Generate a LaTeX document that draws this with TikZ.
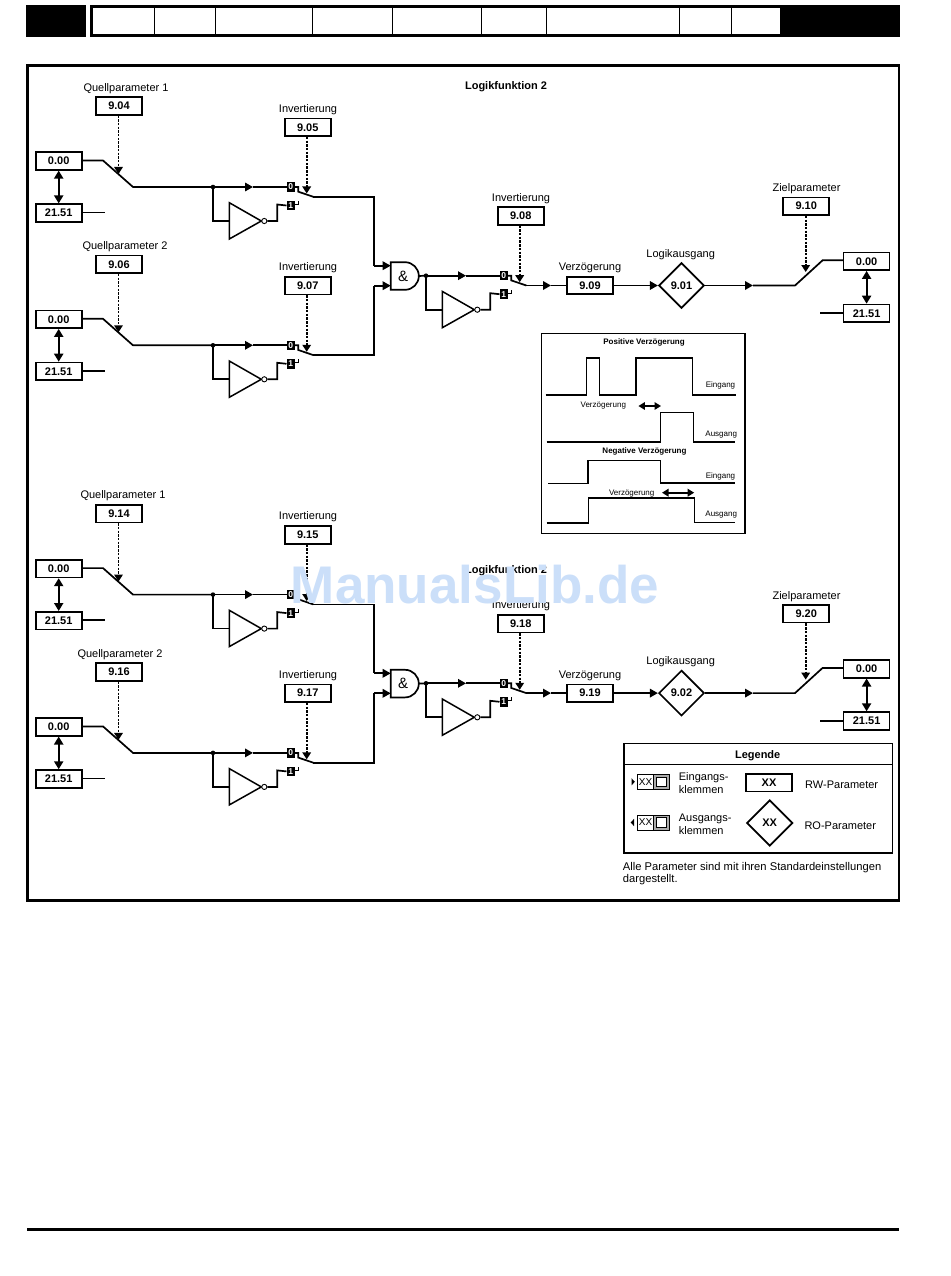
\documentclass[tikz,border=0pt]{standalone}
\usepackage{fontspec}
\setmainfont{Liberation Sans}
\usetikzlibrary{arrows.meta,shapes.geometric}
\definecolor{wm}{HTML}{CBDFF9}
\definecolor{lg}{HTML}{ABABAB}
\newcommand{\fsz}[1]{\fontsize{#1}{#1}\selectfont}
\tikzset{
  wire/.style={line width=1.7pt,line join=miter},
  flow/.style={wire,-{Triangle[length=8pt,width=8.5pt]}},
  dbl/.style={line width=2pt,{Triangle[length=8pt,width=9pt]}-{Triangle[length=8pt,width=9pt]}},
  dotarrow/.style={line width=1.6pt,dash pattern=on 2.4pt off 1.3pt,-{Triangle[length=7pt,width=8.5pt,sep=0pt]}},
  pbox/.style={draw,line width=1.7pt,minimum width=46pt,minimum height=17.5pt,inner sep=0pt,font=\fsz{11}\bfseries},
  lab/.style={inner sep=0pt,yshift=-1.5pt,font=\fsz{11}},
  tbit/.style={fill=black,text=white,minimum width=8pt,minimum height=9.5pt,inner sep=0pt,font=\fsz{8.5}\bfseries},
  pdia/.style={draw,diamond,line width=1.7pt,minimum width=45.5pt,minimum height=45.5pt,aspect=1,inner sep=0pt,font=\fsz{11}\bfseries},
  bub/.style={draw,circle,fill=white,line width=0.9pt,minimum size=5.2pt,inner sep=0pt},
  sm/.style={inner sep=0pt,yshift=-1pt,font=\fsz{8}},
  smb/.style={inner sep=0pt,yshift=-1pt,font=\fsz{8}\bfseries},
  wave/.style={line width=1.4pt,line join=miter},
  note/.style={inner sep=0pt,anchor=west,yshift=-1pt,font=\fsz{11}},
  term/.style={draw,line width=0.8pt,minimum width=16pt,minimum height=15pt,inner sep=0pt,font=\fsz{10}},
  termg/.style={draw,line width=0.8pt,fill=lg,minimum width=16.5pt,minimum height=15pt,inner sep=0pt},
  termw/.style={draw,line width=0.8pt,fill=white,minimum width=9.5pt,minimum height=9.5pt,inner sep=0pt},
}
% inverting selector stage: box, label, bits, inverter, pivot
\newcommand{\invstage}[2]{%
  \node[pbox] (#1box) at (307.7,127.3) {#2};
  \node[lab] (#1lab) at (308,108) {Invertierung};
  \node[tbit] (#1z) at (290.7,187) {0};
  \node[tbit] (#1o) at (290.7,205.5) {1};
  \coordinate (#1dot) at (213,187);
  \coordinate (#1tip) at (253,187);
  \coordinate (#1k) at (298.3,187);
  \coordinate (#1l) at (298.3,191.7);
  \coordinate (#1sw) at (313.3,196.8);
  \coordinate (#1in) at (229.3,221);
  \coordinate (#1u) at (277.3,221);
  \coordinate (#1v) at (277.3,204.5);
  \coordinate (#1tl) at (298.3,204.5);
  \coordinate (#1tt) at (298.3,201);
  \coordinate (#1arr) at (306.7,193.5);
  \fill (#1dot) circle (2.3pt);
  \draw[flow] (#1dot) -- (#1tip);
  \draw[wire] (#1tip) -- (#1z.west);
  \draw[wire] (#1z.east) -- (#1k) -- (#1l) -- (#1sw);
  \draw[wire] (#1dot) |- (#1in);
  \draw[line width=1.5pt,line join=miter] (229.3,202.7) -- (229.3,239) -- (261.3,221) -- cycle;
  \node[bub] (#1b) at (264.3,221) {};
  \draw[wire] (#1b.east) -- (#1u) -- (#1v) -- (#1o.west);
  \draw[line width=1.2pt] (#1o.east |- #1tl) -- (#1tl) -- (#1tt);
  \draw[dotarrow] (#1box.south -| #1arr) -- (#1arr);
}
% one source leg: selector plus inverting stage
\newcommand{\inleg}[6]{%
  \begin{scope}[shift={(0,#2)}]
    \node[pbox] (#1p) at (119,106) {#3};
    \node[lab] (#1pl) at (#5,87) {#4};
    \node[pbox] (#1src) at (58.7,161) {0.00};
    \node[pbox] (#1alt) at (58.7,213) {21.51};
    \draw[dbl] (#1src) -- (#1alt);
    \coordinate (#1e) at (105,212.5);
    \draw[wire] (#1alt.east |- #1e) -- (#1e);
    \coordinate (#1a) at (103,160.5);
    \coordinate (#1c) at (133,187);
    \coordinate (#1ar) at (118.5,174);
    \draw[dotarrow] (#1p.south -| #1ar) -- (#1ar);
    \invstage{#1s}{#6}
    \draw[wire] (#1src.east |- #1a) -- (#1a) -- (#1c) -- (#1sdot);
  \end{scope}%
}
% a complete logic function
\newcommand{\logicfn}[7]{%
  \begin{scope}[shift={(0,#2)}]
    \inleg{#1A}{0}{9.#34}{Quellparameter 1}{#6}{9.#35}
    \inleg{#1B}{158.3}{9.#36}{Quellparameter 2}{#7}{9.#37}
    \node[lab,yshift=1pt] (#1amp) at (403,275.5) {\fsz{15}\&};
    \coordinate (#1g1) at (390.7,265.7);
    \coordinate (#1g2) at (390.7,285.7);
    \coordinate (#1t1) at (374,265.7);
    \coordinate (#1t2) at (374,285.7);
    \draw[wire] (#1Assw) -| (#1t1);
    \draw[wire] (#1Bssw) -| (#1t2);
    \draw[flow] (#1t1) -- (#1g1);
    \draw[flow] (#1t2) -- (#1g2);
    \draw[line width=1.7pt] (405,262.2) -- (390.7,262.2) -- (390.7,289.8) -- (405,289.8) arc[start angle=-90,end angle=90,radius=13.8pt];
    \begin{scope}[shift={(213,88.7)}]
      \invstage{#1C}{9.#38}
    \end{scope}
    \draw[wire] (418.5,276) -- (#1Cdot);
    \node[pbox] (#1dl) at (590,285.5) {9.#39};
    \node[lab] (#1dll) at (590,266.7) {Verzögerung};
    \coordinate (#1c1) at (551,285.5);
    \draw[flow] (#1Csw) -- (#1c1);
    \draw[wire] (#1c1) -- (#1dl.west);
    \node[pdia] (#1out) at (681.5,285.5) {9.#4};
    \node[lab] (#1outl) at (680.7,252.7) {Logikausgang};
    \draw[flow] (#1dl.east) -- (#1out.west);
    \coordinate (#1c2) at (753,285.5);
    \coordinate (#1c3) at (795,285.5);
    \coordinate (#1c4) at (822.6,260.3);
    \draw[flow] (#1out.east) -- (#1c2);
    \node[pbox] (#1tp) at (806.2,206.2) {9.#5};
    \node[lab] (#1tpl) at (806.5,187.3) {Zielparameter};
    \node[pbox] (#1dst) at (866.6,261.3) {0.00};
    \node[pbox] (#1dalt) at (866.6,313.3) {21.51};
    \draw[wire] (#1c2) -- (#1c3) -- (#1c4) -- (#1dst.west |- #1c4);
    \draw[dbl] (#1dst) -- (#1dalt);
    \coordinate (#1c5) at (820,313.3);
    \draw[wire] (#1c5) -- (#1dalt.west);
    \coordinate (#1c6) at (805.7,272);
    \draw[dotarrow] (#1tp.south -| #1c6) -- (#1c6);
  \end{scope}%
}
\begin{document}
\begin{tikzpicture}[x=1pt,y=-1pt]
\useasboundingbox (0,0) rectangle (950,1276);
% header strip
\fill (26,5) rectangle (86,37);
\fill (781,5) rectangle (900,37);
\draw[line width=3pt] (91,6.5) rectangle (781,35.5);
\foreach \xx in {154.5,215,312.7,392.7,481.8,546.7,679.4,731}
  \draw[line width=0.9pt] (\xx,7) -- (\xx,34);
% frame
\draw[line width=2.6pt] (27.5,65.5) rectangle (899,900.5);
\node[lab,font=\fsz{11}\bfseries] (t1) at (506,85) {Logikfunktion 2};
\node[lab,font=\fsz{11}\bfseries] (t2) at (506,569.5) {Logikfunktion 2};
\logicfn{T}{0}{0}{01}{10}{126}{125}
\logicfn{U}{407.6}{1}{02}{20}{123}{120}
% delay inset
\draw[line width=1.4pt] (541.5,333.3) rectangle (744.9,533.3);
\node[smb] (i1) at (644,341.7) {Positive Verzögerung};
\draw[wave] (545.5,395) -- (586.4,395) -- (586.4,358) -- (599.6,358) -- (599.6,395) -- (636,395) -- (636,358) -- (692.2,358) -- (692.2,395) -- (736.4,395);
\node[sm] (i2) at (720.5,384.3) {Eingang};
\node[sm] (i3) at (603.3,405) {Verzögerung};
\coordinate (p1) at (638.4,406); \coordinate (p2) at (661,406);
\draw[line width=1.6pt,{Triangle[length=6.5pt,width=7.5pt]}-{Triangle[length=6.5pt,width=7.5pt]}] (p1) -- (p2);
\draw[wave] (546.5,442) -- (660.4,442) -- (660.4,412.3) -- (693.2,412.3) -- (693.2,442) -- (734.7,442);
\node[sm] (i4) at (721.2,433.3) {Ausgang};
\node[smb] (i5) at (644.5,450) {Negative Verzögerung};
\draw[wave] (548.2,483.5) -- (588.1,483.5) -- (588.1,460.3) -- (660.7,460.3) -- (660.7,483) -- (735.4,483);
\node[sm] (i6) at (720.5,475.3) {Eingang};
\node[sm] (i7) at (631.7,492.3) {Verzögerung};
\coordinate (p3) at (662,492.7); \coordinate (p4) at (694.2,492.7);
\draw[wave] (546.5,523) -- (588.4,523) -- (588.4,498) -- (694.5,498) -- (694.5,522.5) -- (734.7,522.5);
\draw[line width=1.6pt,{Triangle[length=6.5pt,width=7.5pt]}-{Triangle[length=6.5pt,width=7.5pt]}] (p3) -- (p4);
\node[sm] (i8) at (721.2,514) {Ausgang};
% legend
\draw[line width=1.6pt] (624,743.3) rectangle (892.3,852.7);
\draw[line width=1.6pt] (624,764.3) -- (892.3,764.3);
\node[lab,font=\fsz{11}\bfseries] (l0) at (757.7,754) {Legende};
\node[term] (l1a) at (645.5,781.8) {XX};
\node[termg] (l1b) at (661.5,781.8) {};
\node[termw] (l1c) at (661.5,781.8) {};
\fill (631.5,778.2) -- (634.8,781.8) -- (631.5,785.4) -- cycle;
\node[note] (l2) at (678.7,776.5) {Eingangs-};
\node[note] (l3) at (678.7,788.5) {klemmen};
\node[pbox,font=\fsz{11}\bfseries] (l4) at (769,782.7) {XX};
\node[note] (l5) at (805,783.3) {RW-Parameter};
\node[term] (l6a) at (645.5,822.5) {XX};
\node[termg] (l6b) at (661.5,822.5) {};
\node[termw] (l6c) at (661.5,822.5) {};
\fill (634,818.9) -- (630.7,822.5) -- (634,826.1) -- cycle;
\node[note] (l7) at (678.7,817.5) {Ausgangs-};
\node[note] (l8) at (678.7,830) {klemmen};
\node[pdia,minimum width=46pt,minimum height=46pt] (l9) at (769.7,823) {XX};
\node[note] (l10) at (804.3,825) {RO-Parameter};
\node[note,font=\fsz{11.2}] (n1) at (622.7,866.7) {Alle Parameter sind mit ihren Standardeinstellungen};
\node[note,font=\fsz{11.2}] (n2) at (622.7,879) {dargestellt.};
% bottom rule
\draw[line width=2.4pt] (27,1229.3) -- (899,1229.3);
% watermark
\node[inner sep=0pt,text=wm,font=\fsz{53}\bfseries] (wmk) at (475,584.5) {ManualsLib.de};
\end{tikzpicture}
\end{document}
